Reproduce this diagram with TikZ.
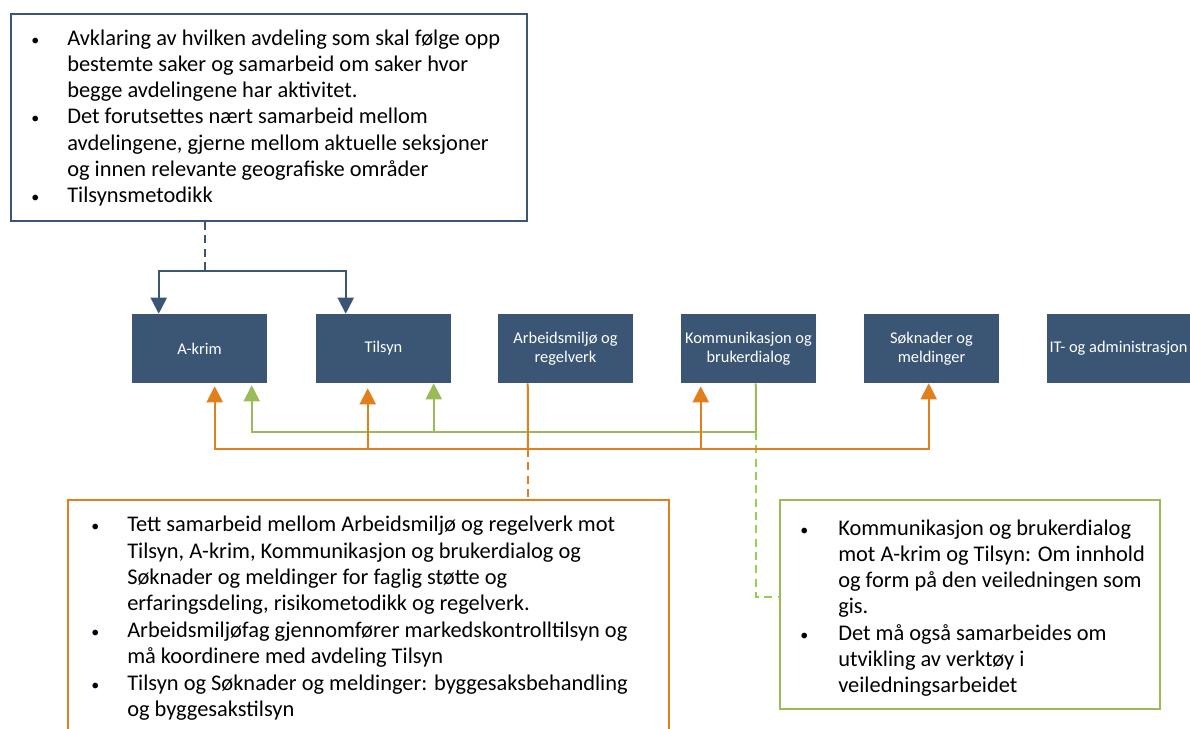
\documentclass[tikz,border=0pt]{standalone}
\usepackage{fontspec}
\setmainfont{Carlito}
\usetikzlibrary{arrows.meta,calc}
\definecolor{navy}{HTML}{3B5674}
\definecolor{org}{HTML}{E07F1B}
\definecolor{grn}{HTML}{9BBB59}
\definecolor{lime}{HTML}{92D050}
\newcommand{\bodyfont}{\fontsize{16.8}{19.6}\selectfont}
\newcommand{\bul}{{\fontsize{12}{12}\selectfont\textbullet}}
\begin{document}
\begin{tikzpicture}[x=0.75pt,y=-0.75pt,
  dept/.style={fill=navy,draw=none,minimum width=135*0.75pt,minimum height=69*0.75pt,
    text=white,align=center,inner sep=0pt,font=\fontsize{12.3}{14}\selectfont},
  callout/.style={draw=#1,line width=1.5pt,fill=none,inner sep=0pt},
  bodytext/.style={anchor=north west,inner sep=0pt,font=\bodyfont},
  conn/.style={line width=1.5pt},
  dsh/.style={dash pattern=on 6pt off 4pt},
  tip/.style={-{Triangle[width=12pt,length=12pt]}}]
\useasboundingbox (0,0) rectangle (1190,729);

% department boxes
\node[dept] (akrim) at (199.5,348.5) {A-krim};
\node[dept] (tilsyn) at (383.5,348.5) {Tilsyn};
\node[dept] (arb) at (565.5,348.5) {Arbeidsmiljø og\\regelverk};
\node[dept] (kom) at (748.5,348.5) {Kommunikasjon og\\brukerdialog};
\node[dept] (sok) at (931.5,348.5) {Søknader og\\meldinger};
\node[dept,minimum width=143*0.75pt] (it) at (1118.5,348.5) {IT- og administrasjon};

% callout boxes
\node[callout=navy,minimum width=516*0.75pt,minimum height=207*0.75pt] (topbox) at (269,117.5) {};
\node[callout=org,minimum width=601*0.75pt,minimum height=240*0.75pt] (orgbox) at (368.5,620) {};
\node[callout=grn,minimum width=380*0.75pt,minimum height=209*0.75pt] (grnbox) at (970,604.5) {};

\node[bodytext] (toptext) at (31,27) {\begin{tabular}{@{}p{27pt}@{}l@{}}
\bul & Avklaring av hvilken avdeling som skal følge opp\\
 & bestemte saker og samarbeid om saker hvor\\
 & begge avdelingene har aktivitet.\\
\bul & Det forutsettes nært samarbeid mellom\\
 & avdelingene, gjerne mellom aktuelle seksjoner\\
 & og innen relevante geografiske områder\\
\bul & Tilsynsmetodikk
\end{tabular}};

\node[bodytext,font=\fontsize{16.8}{19.8}\selectfont] (orgtext) at (91,513) {\begin{tabular}{@{}p{27pt}@{}l@{}}
\bul & Tett samarbeid mellom Arbeidsmiljø og regelverk mot\\
 & Tilsyn, A-krim, Kommunikasjon og brukerdialog og\\
 & Søknader og meldinger for faglig støtte og\\
 & erfaringsdeling, risikometodikk og regelverk.\\
\bul & Arbeidsmiljøfag gjennomfører markedskontrolltilsyn og\\
 & må koordinere med avdeling Tilsyn\\
\bul & Tilsyn og Søknader og meldinger: byggesaksbehandling\\
 & og byggesakstilsyn
\end{tabular}};

\node[bodytext] (grntext) at (800,517) {\begin{tabular}{@{}p{28.5pt}@{}l@{}}
\bul & Kommunikasjon og brukerdialog\\
 & mot A-krim og Tilsyn: Om innhold\\
 & og form på den veiledningen som\\
 & gis.\\
\bul & Det må også samarbeides om\\
 & utvikling av verktøy i\\
 & veiledningsarbeidet
\end{tabular}};

% blue connector
\coordinate (bj) at (205,271);
\draw[navy,conn,dsh] (topbox.south -| bj) -- (bj);
\draw[navy,conn,tip] (bj) -| ($(akrim.north west)+(27,0)$);
\draw[navy,conn,tip] (bj) -| ($(tilsyn.north west)+(30,0)$);

% green connector
\coordinate (gj) at (756,432);
\coordinate (gk) at (756,597);
\draw[grn,conn] ($(kom.south west)+(75,0)$) -- (gj);
\draw[grn,conn,tip] (gj) -| ($(akrim.south west)+(120,2)$);
\draw[grn,conn,tip] (gj) -| ($(tilsyn.south west)+(118,0)$);
\draw[lime,conn,dsh] (gj) -- (gk) -- (gk -| grnbox.west);

% orange connector
\coordinate (oj) at (528,449);
\draw[org,conn] ($(arb.south west)+(30,0)$) -- (oj);
\draw[org,conn,dsh] (oj) -- (orgbox.north -| oj);
\draw[org,conn,tip] (oj) -| ($(akrim.south west)+(83,3)$);
\draw[org,conn,tip] (oj) -| ($(tilsyn.south west)+(52,5)$);
\draw[org,conn,tip] (oj) -| ($(kom.south west)+(20,3)$);
\draw[org,conn,tip] (oj) -| ($(sok.south west)+(65,0)$);
\end{tikzpicture}
\end{document}
